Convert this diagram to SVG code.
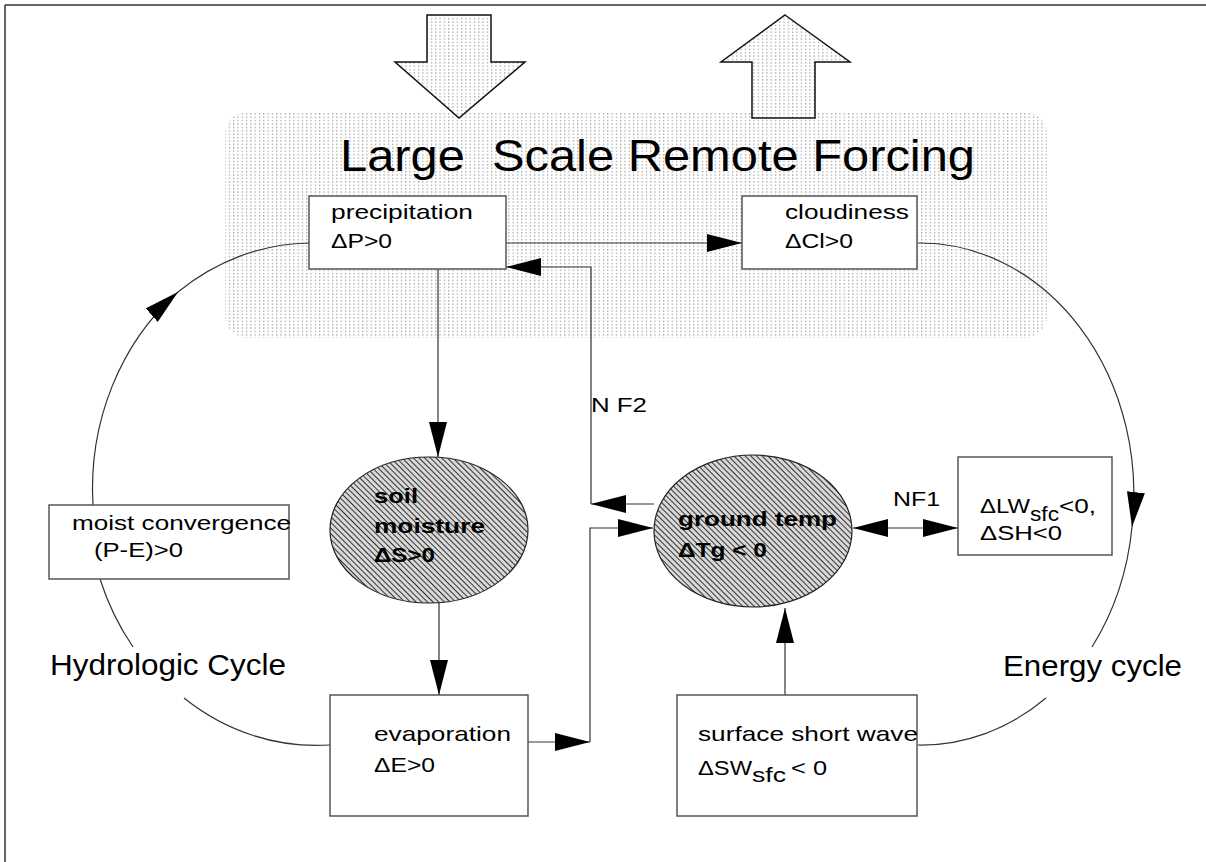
<svg xmlns="http://www.w3.org/2000/svg" width="1206" height="862" viewBox="0 0 1206 862">
<style>
.t{font-family:"Liberation Sans",Arial,Helvetica,sans-serif;font-size:21px;fill:#000;white-space:pre}
.b{font-weight:bold}
.big{font-size:29px}
.title{font-size:45px}
.box{fill:#fff;stroke:#555;stroke-width:1.5}
.ln{fill:none;stroke:#333;stroke-width:1.2}
.ell{fill:url(#hatch);stroke:#222;stroke-width:1.2}
.fat{fill:url(#dots);stroke:#111;stroke-width:1.5}
</style>
<defs>
<pattern id="dots" width="4.3" height="3.4" patternUnits="userSpaceOnUse">
<rect width="4.3" height="3.4" fill="#fff"/>
<rect x="1" y="1" width="1" height="1.3" fill="#888"/>
</pattern>
<pattern id="hatch" width="4" height="4" patternUnits="userSpaceOnUse" patternTransform="rotate(-45)">
<rect width="4" height="4" fill="#d8d8d8"/>
<line x1="0" y1="0" x2="0" y2="4" stroke="#333" stroke-width="2"/>
</pattern>
<marker id="ah" markerUnits="userSpaceOnUse" markerWidth="36" markerHeight="18" refX="35" refY="9" orient="auto-start-reverse">
<path d="M0,0 L35,9 L0,18 z" fill="#000"/>
</marker>
</defs>
<rect width="1206" height="862" fill="#fff"/>
<g id="frame">
<line x1="5" y1="5" x2="1206" y2="5" stroke="#333" stroke-width="1.5"/>
<line x1="5" y1="5" x2="5" y2="862" stroke="#333" stroke-width="1.5"/>
</g>
<g id="forcing">
<rect x="225" y="112" width="822" height="226" rx="22" fill="url(#dots)"/>
<polygon class="fat" points="427,15 491,15 491,62 525,62 459,118 395,62 427,62"/>
<polygon class="fat" points="785,15 850,62 815,62 815,118 752,118 752,62 721,62"/>
<text class="t title" x="340" y="171" textLength="635" lengthAdjust="spacingAndGlyphs">Large  Scale Remote Forcing</text>
</g>
<g id="connectors">
<line class="ln" x1="506" y1="243" x2="742" y2="243" marker-end="url(#ah)"/>
<line class="ln" x1="654" y1="504" x2="591" y2="504" marker-end="url(#ah)"/>
<polyline class="ln" points="591,504 591,267 506,267" marker-end="url(#ah)"/>
<line class="ln" x1="438" y1="269" x2="438" y2="457" marker-end="url(#ah)"/>
<line class="ln" x1="439" y1="602" x2="439" y2="695" marker-end="url(#ah)"/>
<line class="ln" x1="528" y1="742" x2="590" y2="742" marker-end="url(#ah)"/>
<polyline class="ln" points="590,742 590,528 653,528" marker-end="url(#ah)"/>
<line class="ln" x1="785" y1="695" x2="785" y2="608" marker-end="url(#ah)"/>
<line class="ln" x1="853" y1="528" x2="958" y2="528" marker-start="url(#ah)" marker-end="url(#ah)"/>
<path class="ln" d="M93,505 A226,251 0 0 1 178,292" marker-end="url(#ah)"/>
<path class="ln" d="M178,292 A226,251 0 0 1 309,243"/>
<path class="ln" d="M100,579 A226,251 0 0 0 133,647"/>
<path class="ln" d="M184,698 A226,251 0 0 0 330,745"/>
<path class="ln" d="M918,243 A214,251 0 0 1 1132,527" marker-end="url(#ah)"/>
<path class="ln" d="M1132,527 A214,251 0 0 1 1092,647"/>
<path class="ln" d="M1046,698 A214,251 0 0 1 918,745"/>
<text class="t" x="591" y="412" textLength="56" lengthAdjust="spacingAndGlyphs">N F2</text>
<text class="t" x="893" y="506" textLength="47" lengthAdjust="spacingAndGlyphs">NF1</text>
<text class="t big" x="50" y="675" textLength="236" lengthAdjust="spacingAndGlyphs">Hydrologic Cycle</text>
<text class="t big" x="1003" y="676" textLength="179" lengthAdjust="spacingAndGlyphs">Energy cycle</text>
</g>
<g id="precipitation">
<rect class="box" x="309" y="196" width="197" height="73"/>
<text class="t" x="331" y="219" textLength="142" lengthAdjust="spacingAndGlyphs">precipitation</text>
<text class="t" x="331" y="248" textLength="61" lengthAdjust="spacingAndGlyphs">ΔP&gt;0</text>
</g>
<g id="cloudiness">
<rect class="box" x="742" y="196" width="175" height="73"/>
<text class="t" x="785" y="219" textLength="124" lengthAdjust="spacingAndGlyphs">cloudiness</text>
<text class="t" x="785" y="248" textLength="68" lengthAdjust="spacingAndGlyphs">ΔCl&gt;0</text>
</g>
<g id="soil">
<ellipse class="ell" cx="429" cy="530" rx="99" ry="73"/>
<text class="t b" x="374" y="503" textLength="44" lengthAdjust="spacingAndGlyphs">soil</text>
<text class="t b" x="374" y="533" textLength="111" lengthAdjust="spacingAndGlyphs">moisture</text>
<text class="t b" x="374" y="562" textLength="61" lengthAdjust="spacingAndGlyphs">ΔS&gt;0</text>
</g>
<g id="groundtemp">
<ellipse class="ell" cx="753" cy="531" rx="99" ry="76"/>
<text class="t b" x="678" y="526" textLength="159" lengthAdjust="spacingAndGlyphs">ground temp</text>
<text class="t b" x="678" y="557" textLength="89" lengthAdjust="spacingAndGlyphs">ΔTg &lt; 0</text>
</g>
<g id="longwave">
<rect class="box" x="958" y="457" width="154" height="98"/>
<text class="t" x="980" y="513" textLength="50" lengthAdjust="spacingAndGlyphs">ΔLW</text>
<text class="t" x="1030" y="521" textLength="29" lengthAdjust="spacingAndGlyphs">sfc</text>
<text class="t" x="1059" y="513" textLength="37" lengthAdjust="spacingAndGlyphs">&lt;0,</text>
<text class="t" x="980" y="540" textLength="82" lengthAdjust="spacingAndGlyphs">ΔSH&lt;0</text>
</g>
<g id="moist">
<rect class="box" x="49" y="505" width="240" height="74"/>
<text class="t" x="72" y="530" textLength="219" lengthAdjust="spacingAndGlyphs">moist convergence</text>
<text class="t" x="94" y="557" textLength="89" lengthAdjust="spacingAndGlyphs">(P-E)&gt;0</text>
</g>
<g id="evaporation">
<rect class="box" x="330" y="695" width="198" height="121"/>
<text class="t" x="374" y="741" textLength="137" lengthAdjust="spacingAndGlyphs">evaporation</text>
<text class="t" x="374" y="772" textLength="61" lengthAdjust="spacingAndGlyphs">ΔE&gt;0</text>
</g>
<g id="shortwave">
<rect class="box" x="677" y="695" width="240" height="121"/>
<text class="t" x="698" y="741" textLength="220" lengthAdjust="spacingAndGlyphs">surface short wave</text>
<text class="t" x="698" y="775" textLength="54" lengthAdjust="spacingAndGlyphs">ΔSW</text>
<text class="t" x="752" y="782" textLength="34" lengthAdjust="spacingAndGlyphs">sfc</text>
<text class="t" x="791" y="775" textLength="36" lengthAdjust="spacingAndGlyphs">&lt; 0</text>
</g>
</svg>
